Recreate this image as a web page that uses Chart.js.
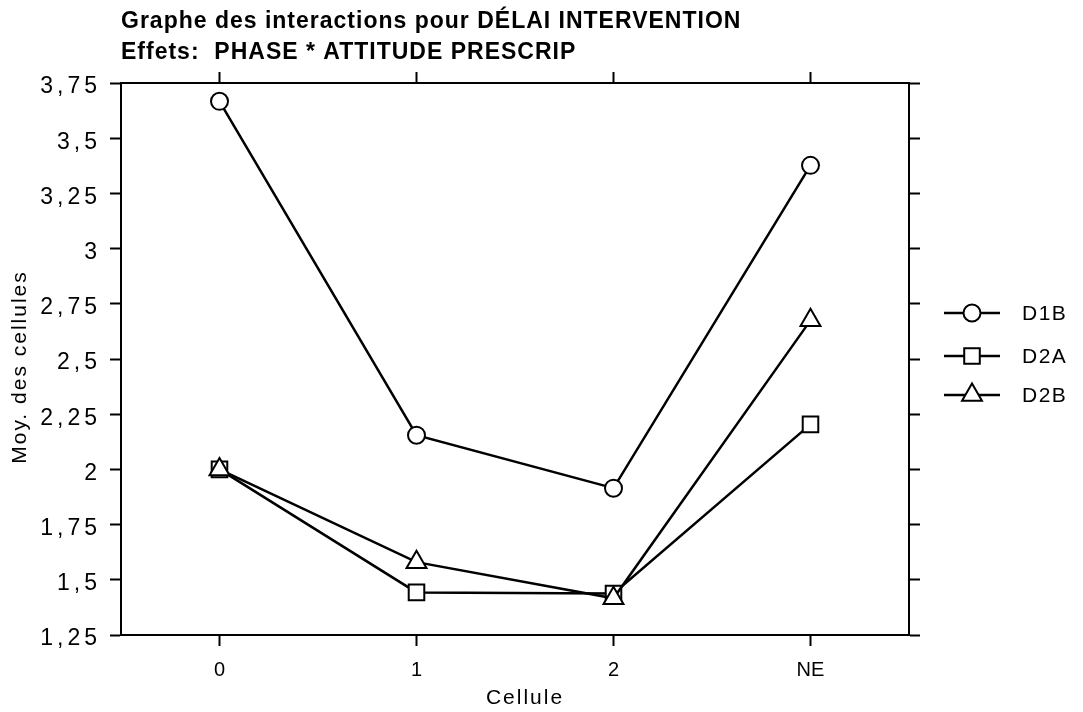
<!DOCTYPE html>
<html>
<head>
<meta charset="utf-8">
<script src="https://cdn.jsdelivr.net/npm/chart.js@4/dist/chart.umd.min.js"></script>
<style>
  html, body { margin: 0; padding: 0; background: #fff; }
  #wrap { width: 1083px; height: 712px; }
</style>
</head>
<body>
<div id="wrap"><canvas id="interChart" width="1083" height="712"></canvas></div>
<script>
// Moyennes des cellules
const categories = ['0', '1', '2', 'NE'];
const d1b = [3.667, 2.155, 1.915, 3.377];
const d2a = [2.0, 1.443, 1.438, 2.204];
const d2b = [2.0, 1.58, 1.416, 2.675];
const seriesNames = ['D1B', 'D2A', 'D2B'];
const titleLines = ['Graphe des interactions pour DÉLAI INTERVENTION', 'Effets:  PHASE * ATTITUDE PRESCRIP'];

const FONT = '"Liberation Sans", Arial, Helvetica, sans-serif';

const axisGrid = {
    display: true,
    drawOnChartArea: false,
    drawTicks: true,
    tickLength: 11,
    tickWidth: 2,
    tickColor: '#000',
    color: '#000'
};
const axisBorder = { display: true, color: '#000', width: 2 };

// espacement des lettres (le texte de l'original est plus aéré) + petit décalage
function wrapSpacing(scale, method, spacing, dx, dy) {
    if (!scale || scale['_ls_' + method]) return;
    const orig = scale[method];
    scale[method] = function (...args) {
        const c = this.ctx;
        c.save();
        c.letterSpacing = spacing;
        c.translate(dx || 0, dy || 0);
        orig.apply(this, args);
        c.restore();
    };
    scale['_ls_' + method] = true;
}

const spacingPlugin = {
    id: 'espacement',
    beforeDraw(chart) {
        wrapSpacing(chart.scales.y, 'drawLabels', '4px');
        wrapSpacing(chart.scales.y, 'drawTitle', '2px', 0, 8);
        wrapSpacing(chart.scales.x, 'drawTitle', '2px', 10, 0);
    }
};

// titre en haut à gauche
const titlePlugin = {
    id: 'titreGraphe',
    afterDraw(chart) {
        const c = chart.ctx;
        c.save();
        c.fillStyle = '#000';
        c.font = 'bold 23px ' + FONT;
        c.letterSpacing = '1px';
        c.textBaseline = 'middle';
        c.textAlign = 'left';
        c.fillText(titleLines[0], 121, 22);
        c.fillText(titleLines[1], 121, 53);
        c.restore();
    }
};

// légende à droite : trait + symbole + nom
const legendPlugin = {
    id: 'legendeLignes',
    afterDraw(chart) {
        const c = chart.ctx;
        const rows = [313, 356, 395];
        c.save();
        chart.data.datasets.forEach((ds, i) => {
            const y = rows[i];
            c.strokeStyle = '#000';
            c.lineWidth = 2.5;
            c.beginPath();
            c.moveTo(944, y);
            c.lineTo(1000, y);
            c.stroke();
            c.fillStyle = '#fff';
            c.lineWidth = ds.pointBorderWidth;
            Chart.helpers.drawPoint(c, {
                pointStyle: ds.pointStyle,
                radius: ds.pointRadius,
                borderWidth: ds.pointBorderWidth,
                rotation: 0
            }, 972, y);
            c.fillStyle = '#000';
            c.font = '21px ' + FONT;
            c.letterSpacing = '1.5px';
            c.textBaseline = 'middle';
            c.textAlign = 'left';
            c.fillText(ds.label, 1022, y + 1);
        });
        c.restore();
    }
};

function makeSet(name, values, style, radius, order) {
    return {
        label: name,
        data: values,
        order: order,
        borderColor: '#000',
        borderWidth: 2.5,
        pointStyle: style,
        pointRadius: radius,
        pointHoverRadius: radius,
        pointBackgroundColor: '#fff',
        pointBorderColor: '#000',
        pointBorderWidth: 2,
        fill: false,
        tension: 0
    };
}

const ctx = document.getElementById('interChart').getContext('2d');

new Chart(ctx, {
    type: 'line',
    data: {
        labels: categories,
        datasets: [
            makeSet(seriesNames[0], d1b, 'circle', 8.5, 3),
            makeSet(seriesNames[1], d2a, 'rect', 11, 2),
            makeSet(seriesNames[2], d2b, 'triangle', 11.5, 1)
        ]
    },
    options: {
        responsive: false,
        animation: false,
        devicePixelRatio: 1,
        layout: { padding: 0 },
        plugins: {
            legend: { display: false },
            title: { display: false },
            tooltip: { enabled: false }
        },
        scales: {
            x: {
                type: 'category',
                position: 'bottom',
                offset: true,
                grid: axisGrid,
                border: axisBorder,
                ticks: { color: '#000', font: { family: FONT, size: 20 }, padding: 12 },
                title: { display: true, text: 'Cellule', color: '#000', font: { family: FONT, size: 21 }, padding: { top: 0, bottom: 1 } },
                afterFit: s => { s.height = 712 - 635; }
            },
            xTop: {
                type: 'category',
                position: 'top',
                labels: categories,
                offset: true,
                grid: axisGrid,
                border: axisBorder,
                ticks: { display: false },
                afterFit: s => { s.height = 83; }
            },
            y: {
                type: 'linear',
                position: 'left',
                min: 1.25,
                max: 3.75,
                grid: axisGrid,
                border: axisBorder,
                ticks: {
                    stepSize: 0.25,
                    color: '#000',
                    font: { family: FONT, size: 23 },
                    padding: 9,
                    labelOffset: 4,
                    callback: v => String(v).replace('.', ',')
                },
                title: { display: true, text: 'Moy. des cellules', color: '#000', font: { family: FONT, size: 21 }, padding: { top: 8, bottom: 0 } },
                afterFit: s => { s.width = 121; }
            },
            yRight: {
                type: 'linear',
                position: 'right',
                min: 1.25,
                max: 3.75,
                grid: axisGrid,
                border: axisBorder,
                ticks: { display: false, stepSize: 0.25 },
                afterFit: s => { s.width = 1083 - 909; }
            }
        }
    },
    plugins: [spacingPlugin, titlePlugin, legendPlugin]
});
</script>
</body>
</html>
